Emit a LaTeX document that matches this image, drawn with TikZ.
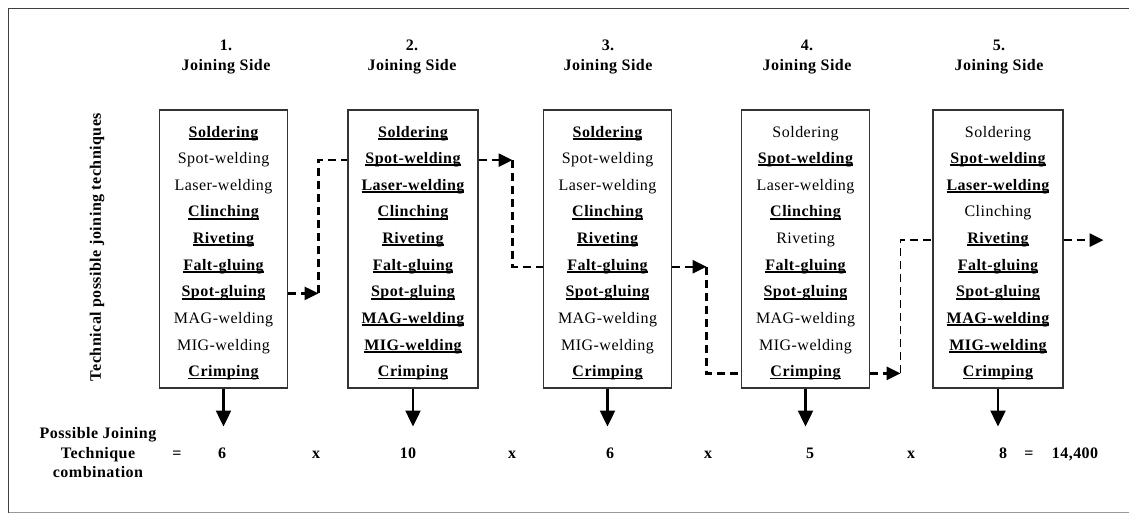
\documentclass[tikz,border=0pt]{standalone}
\usepackage{fontspec}
\setmainfont{Liberation Serif}[LetterSpace=3]
\usetikzlibrary{arrows.meta}

% bold text with a heavy underline
\newcommand\ulbf[1]{\sbox0{\bfseries #1}\rlap{\rule[-2.6pt]{\wd0}{1.8pt}}\usebox0}
\newcommand\fmton[1]{\ulbf{#1}}
\newcommand\fmtoff[1]{#1}

% one column of joining techniques: #1 index, #2 x of the column, #3 list of on/off and names
\newcommand\techcol[3]{%
  \foreach \f/\t [count=\k] in {#3}
    \node[item] (r#1-\k) at (#2,{137+26.65*(\k-1)}) {\csname fmt\f\endcsname{\t}};
}

\tikzset{
  frame/.style={draw=black!75, line width=1.1pt},
  techbox/.style={draw=black!80, line width=1.1pt, minimum height=278pt, inner sep=0pt},
  item/.style={anchor=base, inner sep=0pt, text height=11pt, text depth=4pt,
               font=\fontsize{16}{18}\selectfont},
  lbl/.style={anchor=base, inner sep=0pt, font=\fontsize{16}{18}\selectfont\bfseries},
  down/.style={line width=2.2pt, -{Triangle[length=16pt,width=15pt]}},
  hop/.style={line width=2.5pt, dash pattern=on 8pt off 5pt},
  hoparrow/.style={hop, -{Triangle[length=14pt,width=13pt]}},
}

\begin{document}
\begin{tikzpicture}[x=1pt,y=-1pt]
\useasboundingbox (0,0) rectangle (1129,516);

% outer frame
\draw[frame] (1129,8.5) -- (8.5,8.5) -- (8.5,512.5);
\draw[draw=black!40, line width=1pt] (8.5,512.5) -- (1129,512.5);

% column headings
\node[lbl] (h1a) at (226,51) {1.};
\node[lbl] (h1b) at (226,71) {Joining Side};
\node[lbl] (h2a) at (412,51) {2.};
\node[lbl] (h2b) at (412,71) {Joining Side};
\node[lbl] (h3a) at (608,51) {3.};
\node[lbl] (h3b) at (608,71) {Joining Side};
\node[lbl] (h4a) at (807,51) {4.};
\node[lbl] (h4b) at (807,71) {Joining Side};
\node[lbl] (h5a) at (999,51) {5.};
\node[lbl] (h5b) at (999,71) {Joining Side};

% side label
\node[font=\fontsize{16}{18}\selectfont\bfseries, rotate=90, inner sep=0pt] (side) at (97,247)
  {Technical possible joining techniques};

% boxes
\node[techbox, minimum width=128pt] (b1) at (223.5,249) {};
\node[techbox, minimum width=130pt] (b2) at (413,249) {};
\node[techbox, minimum width=128pt] (b3) at (607.5,249) {};
\node[techbox, minimum width=128pt] (b4) at (805.5,249) {};
\node[techbox, minimum width=130pt] (b5) at (998,249) {};

% techniques per joining side
\techcol{1}{223.5}{on/Soldering, off/Spot-welding, off/Laser-welding, on/Clinching, on/Riveting,
  on/Falt-gluing, on/Spot-gluing, off/MAG-welding, off/MIG-welding, on/Crimping}
\techcol{2}{413}{on/Soldering, on/Spot-welding, on/Laser-welding, on/Clinching, on/Riveting,
  on/Falt-gluing, on/Spot-gluing, on/MAG-welding, on/MIG-welding, on/Crimping}
\techcol{3}{607.5}{on/Soldering, off/Spot-welding, off/Laser-welding, on/Clinching, on/Riveting,
  on/Falt-gluing, on/Spot-gluing, off/MAG-welding, off/MIG-welding, on/Crimping}
\techcol{4}{805.5}{off/Soldering, on/Spot-welding, off/Laser-welding, on/Clinching, off/Riveting,
  on/Falt-gluing, on/Spot-gluing, off/MAG-welding, off/MIG-welding, on/Crimping}
\techcol{5}{998}{off/Soldering, on/Spot-welding, on/Laser-welding, off/Clinching, on/Riveting,
  on/Falt-gluing, on/Spot-gluing, on/MAG-welding, on/MIG-welding, on/Crimping}

% example path through the joining sides
\path (r1-7 -| b1.east) ++(30.5,0) coordinate (c12);
\path (r2-2 -| b2.east) ++(34,0) coordinate (c23);
\path (r3-6 -| b3.east) ++(34.5,0) coordinate (c34);
\path (r4-10 -| b4.east) ++(30.5,0) coordinate (c45);
\path (r5-5 -| b5.east) ++(40,0) coordinate (c5o);

\draw[hoparrow] (r1-7 -| b1.east) -- (c12);
\draw[hop] (c12) -- (c12 |- r2-2) -- (r2-2 -| b2.west);
\draw[hoparrow] (r2-2 -| b2.east) -- (c23);
\draw[hop] (c23) -- (c23 |- r3-6) -- (r3-6 -| b3.west);
\draw[hoparrow] (r3-6 -| b3.east) -- (c34);
\draw[hop] (c34) -- (c34 |- r4-10) -- (r4-10 -| b4.west);
\draw[hoparrow] (r4-10 -| b4.east) -- (c45);
\draw[hop, line width=1.7pt] (c45) -- (c45 |- r5-5) -- (r5-5 -| b5.west);
\draw[hoparrow] (r5-5 -| b5.east) -- (c5o);

% counts per joining side
\foreach \i in {1,...,5} {
  \path (b\i.south) ++(0,38) coordinate (t\i);
  \draw[down] (b\i.south) -- (t\i);
}

% resulting number of combinations
\node[lbl] (p1) at (98,438) {Possible Joining};
\node[lbl] (p2) at (98,458) {Technique};
\node[lbl] (p3) at (98,477) {combination};
\node[lbl] (eq1) at (177,458) {=};
\node[lbl] (n1) at (222,458) {6};
\node[lbl] (x1) at (316,458) {x};
\node[lbl] (n2) at (408,458) {10};
\node[lbl] (x2) at (512,458) {x};
\node[lbl] (n3) at (610,458) {6};
\node[lbl] (x3) at (708,458) {x};
\node[lbl] (n4) at (810,458) {5};
\node[lbl] (x4) at (911,458) {x};
\node[lbl] (n5) at (1003,458) {8};
\node[lbl] (eq2) at (1029,458) {=};
\node[lbl] (tot) at (1075,458) {14,400};
\end{tikzpicture}
\end{document}
